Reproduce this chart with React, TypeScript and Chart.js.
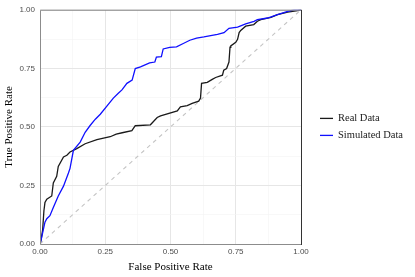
import React, { useEffect, useRef } from "react";
import { Chart, registerables } from "chart.js";

Chart.register(...registerables);

// ---- data ----
const seriesNames = ["Real Data", "Simulated Data"];

const realFPR = [
  0, 0.004, 0.01, 0.015, 0.019, 0.026, 0.045, 0.051, 0.064, 0.07, 0.09, 0.103, 0.115, 0.141, 0.173, 0.218,
  0.269, 0.292, 0.315, 0.352, 0.365, 0.423, 0.449, 0.462, 0.526, 0.538, 0.564, 0.583, 0.608, 0.615, 0.619,
  0.641, 0.66, 0.673, 0.699, 0.704, 0.715, 0.724, 0.728, 0.731, 0.75, 0.757, 0.763, 0.769, 0.788, 0.819,
  0.833, 0.846, 0.885, 0.91, 0.949, 0.987, 1,
];
const realTPR = [
  0, 0.017, 0.059, 0.142, 0.177, 0.191, 0.205, 0.261, 0.289, 0.331, 0.372, 0.379, 0.393, 0.407, 0.428, 0.446,
  0.458, 0.469, 0.475, 0.484, 0.505, 0.509, 0.54, 0.547, 0.568, 0.586, 0.591, 0.6, 0.61, 0.623, 0.686,
  0.69, 0.703, 0.711, 0.721, 0.742, 0.749, 0.777, 0.84, 0.846, 0.861, 0.874, 0.903, 0.912, 0.93, 0.937,
  0.951, 0.958, 0.968, 0.979, 0.99, 0.996, 1,
];

const simFPR = [
  0, 0.004, 0.019, 0.026, 0.038, 0.051, 0.07, 0.09, 0.109, 0.115, 0.128, 0.154, 0.173, 0.192, 0.212, 0.231,
  0.257, 0.281, 0.3, 0.314, 0.333, 0.353, 0.365, 0.385, 0.42, 0.44, 0.446, 0.465, 0.472, 0.497, 0.523,
  0.549, 0.574, 0.6, 0.628, 0.68, 0.705, 0.724, 0.757, 0.788, 0.82, 0.833, 0.872, 0.91, 0.949, 0.974, 1,
];
const simTPR = [
  0, 0.017, 0.093, 0.108, 0.121, 0.156, 0.205, 0.247, 0.303, 0.323, 0.4, 0.435, 0.477, 0.506, 0.533, 0.554,
  0.59, 0.623, 0.644, 0.658, 0.686, 0.7, 0.749, 0.756, 0.773, 0.777, 0.798, 0.8, 0.833, 0.84, 0.842,
  0.856, 0.87, 0.879, 0.884, 0.895, 0.902, 0.921, 0.926, 0.94, 0.951, 0.958, 0.965, 0.979, 0.993, 1, 1,
];

const diagonalValues = [0, 1];
const majorTicks = [0, 0.25, 0.5, 0.75, 1];

const toPoints = (xs: number[], ys: number[]) => xs.map((x, i) => ({ x, y: ys[i] }));
const isMajor = (v: number) => majorTicks.some((m) => Math.abs(m - v) < 1e-6);

const TICK_FONT = { family: "'Liberation Sans', Arial, sans-serif", size: 8 };
const TITLE_FONT = { family: "'Liberation Serif', 'Times New Roman', serif", size: 11 };

const panelBorder = {
  id: "panelBorder",
  afterDatasetsDraw(chart: any) {
    const { ctx, chartArea: a } = chart;
    ctx.save();
    ctx.lineWidth = 1;
    ctx.strokeStyle = "#8c8c8c";
    ctx.beginPath();
    ctx.moveTo(a.right, a.top + 0.5);
    ctx.lineTo(a.left + 0.5, a.top + 0.5);
    ctx.lineTo(a.left + 0.5, a.bottom + 0.5);
    ctx.lineTo(a.right, a.bottom + 0.5);
    ctx.stroke();
    ctx.strokeStyle = "#333333";
    ctx.beginPath();
    ctx.moveTo(a.right + 0.5, a.top);
    ctx.lineTo(a.right + 0.5, a.bottom + 1);
    ctx.stroke();
    ctx.restore();
  },
};

const sideLegend = {
  id: "sideLegend",
  afterDraw(chart: any) {
    const { ctx, chartArea: a } = chart;
    const items = chart.data.datasets.filter((d: any) => seriesNames.includes(d.label));
    const cy = (a.top + a.bottom) / 2;
    const gap = 17;
    ctx.save();
    ctx.font = "10.5px 'Liberation Serif', 'Times New Roman', serif";
    ctx.textBaseline = "middle";
    ctx.textAlign = "left";
    items.forEach((d: any, i: number) => {
      const y = cy - gap / 2 + i * gap;
      ctx.strokeStyle = d.borderColor;
      ctx.lineWidth = 1.3;
      ctx.beginPath();
      ctx.moveTo(320, y);
      ctx.lineTo(333, y);
      ctx.stroke();
      ctx.fillStyle = "#1a1a1a";
      ctx.fillText(d.label, 338, y);
    });
    ctx.restore();
  },
};

export default function App() {
  const ref = useRef<HTMLCanvasElement | null>(null);

  useEffect(() => {
    if (!ref.current) return;
    const gridColor = (ctx: any) => (isMajor(ctx.tick?.value ?? 0) ? "#e6e6e6" : "#f3f3f3");
    const gridWidth = (ctx: any) => (isMajor(ctx.tick?.value ?? 0) ? 1 : 0.6);
    const chart = new Chart(ref.current, {
      type: "line",
      data: {
        datasets: [
          {
            label: "diagonal",
            data: toPoints(diagonalValues, diagonalValues),
            borderColor: "#c4c4c4",
            borderWidth: 1.1,
            borderDash: [4, 4],
            pointRadius: 0,
            order: 3,
          },
          {
            label: seriesNames[0],
            data: toPoints(realFPR, realTPR),
            borderColor: "#1a1a1a",
            borderWidth: 1.3,
            pointRadius: 0,
            tension: 0,
            order: 2,
          },
          {
            label: seriesNames[1],
            data: toPoints(simFPR, simTPR),
            borderColor: "#1010ff",
            borderWidth: 1.3,
            pointRadius: 0,
            tension: 0,
            order: 1,
          },
        ],
      },
      options: {
        animation: false,
        responsive: false,
        devicePixelRatio: 1,
        parsing: false as any,
        layout: { padding: { top: 5, right: 114, left: 0, bottom: 0 } },
        plugins: { legend: { display: false }, tooltip: { enabled: false } },
        scales: {
          x: {
            type: "linear",
            min: 0,
            max: 1,
            afterFit: (s: any) => {
              s.height = 33;
            },
            ticks: {
              stepSize: 0.125,
              autoSkip: false,
              maxRotation: 0,
              padding: 3,
              color: "#4d4d4d",
              font: TICK_FONT,
              callback: (v: any) => (isMajor(Number(v)) ? Number(v).toFixed(2) : ""),
            },
            grid: { color: gridColor, lineWidth: gridWidth, drawTicks: false },
            border: { display: false },
            title: { display: true, text: "False Positive Rate", color: "#000", font: TITLE_FONT, padding: { top: 0, bottom: 3 } },
          },
          y: {
            type: "linear",
            min: 0,
            max: 1,
            afterFit: (s: any) => {
              s.width = 40;
            },
            ticks: {
              stepSize: 0.125,
              autoSkip: false,
              padding: 5,
              color: "#4d4d4d",
              font: TICK_FONT,
              callback: (v: any) => (isMajor(Number(v)) ? Number(v).toFixed(2) : ""),
            },
            grid: { color: gridColor, lineWidth: gridWidth, drawTicks: false },
            border: { display: false },
            title: { display: true, text: "True Positive Rate", color: "#000", font: TITLE_FONT, padding: { top: 3, bottom: 0 } },
          },
        },
      },
      plugins: [panelBorder, sideLegend],
    });
    return () => chart.destroy();
  }, []);

  return (
    <div style={{ position: "fixed", left: 0, top: 0, width: 415, height: 277, background: "#fff" }}>
      <canvas ref={ref} width={415} height={277} style={{ width: 415, height: 277, display: "block" }} />
    </div>
  );
}
